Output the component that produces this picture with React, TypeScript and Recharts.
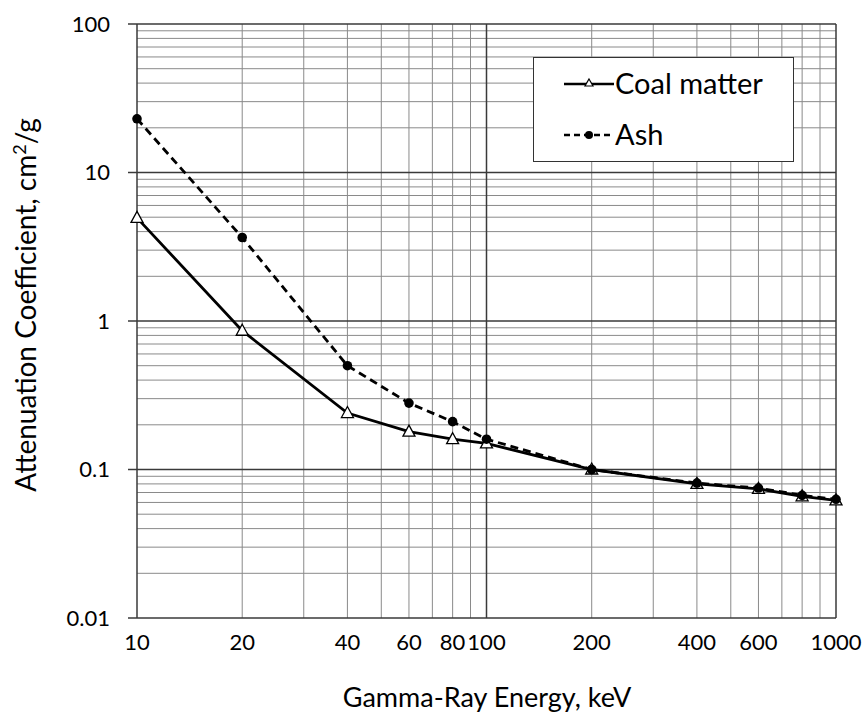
import { Label, Line, LineChart, ReferenceLine, XAxis, YAxis } from "recharts";

const FONT = "Lato, 'Open Sans', sans-serif";
const INK = "#000";
const GRID = "#8a8a8a";
const MAJOR = "#3a3a3a";

// gamma-ray energy, keV
const ENERGY = [10, 20, 40, 60, 80, 100, 200, 400, 600, 800, 1000];
// attenuation coefficient, cm2/g
const COAL = [4.95, 0.86, 0.24, 0.18, 0.16, 0.15, 0.1, 0.08, 0.074, 0.066, 0.062];
const ASH = [23, 3.65, 0.5, 0.28, 0.21, 0.16, 0.1, 0.081, 0.075, 0.067, 0.063];

const X_TICKS = [10, 20, 40, 60, 80, 100, 200, 400, 600, 1000];
const Y_TICKS = [0.01, 0.1, 1, 10, 100];

const X_MINOR = [20, 30, 40, 50, 60, 70, 80, 90, 200, 300, 400, 500, 600, 700, 800, 900];
const Y_MINOR = [
  0.02, 0.03, 0.04, 0.05, 0.06, 0.07, 0.08, 0.09,
  0.2, 0.3, 0.4, 0.5, 0.6, 0.7, 0.8, 0.9,
  2, 3, 4, 5, 6, 7, 8, 9,
  20, 30, 40, 50, 60, 70, 80, 90,
];
const X_MAJOR = [10, 100, 1000];
const Y_MAJOR = [0.01, 0.1, 1, 10, 100];

const data = ENERGY.map((e, i) => ({ energy: e, coal: COAL[i], ash: ASH[i] }));

function Triangle(props: any) {
  const { cx, cy, index } = props;
  if (cx == null || cy == null) return null;
  return (
    <path
      key={`t${index}`}
      d={`M${cx},${cy - 6.5}L${cx + 6},${cy + 4.5}L${cx - 6},${cy + 4.5}Z`}
      fill="#fff"
      stroke={INK}
      strokeWidth={1.3}
    />
  );
}

function Dot(props: any) {
  const { cx, cy, index } = props;
  if (cx == null || cy == null) return null;
  return <circle key={`d${index}`} cx={cx} cy={cy} r={4.8} fill={INK} />;
}

function LegendBox() {
  return (
    <div
      style={{
        position: "absolute",
        left: 533,
        top: 57,
        width: 261,
        height: 105,
        boxSizing: "border-box",
        border: "1.5px solid #333",
        background: "#fff",
      }}
    >
      <svg width={258} height={102} style={{ position: "absolute", left: 0, top: 0 }}>
        <line x1={30} x2={80} y1={26} y2={26} stroke={INK} strokeWidth={2.5} />
        <path d="M55,21L59,28L51,28Z" fill="#fff" stroke={INK} strokeWidth={1.2} />
        <text x={81} y={36} fontFamily={FONT} fontSize={29} fill={INK}>
          Coal matter
        </text>
        <line x1={30} x2={80} y1={77} y2={77} stroke={INK} strokeWidth={2.5} strokeDasharray="6 4" />
        <circle cx={55} cy={77} r={4} fill={INK} />
        <text x={81} y={87} fontFamily={FONT} fontSize={29} fill={INK}>
          Ash
        </text>
      </svg>
    </div>
  );
}

export default function App() {
  return (
    <div style={{ position: "absolute", left: 0, top: 0, width: 864, height: 716, background: "#fff" }}>
      <LineChart width={864} height={716} data={data} margin={{ top: 24, right: 28, left: 0, bottom: 0 }}>
        {X_MINOR.map((v) => (
          <ReferenceLine key={`xm${v}`} x={v} stroke={GRID} strokeWidth={1} />
        ))}
        {Y_MINOR.map((v) => (
          <ReferenceLine key={`ym${v}`} y={v} stroke={GRID} strokeWidth={1} />
        ))}
        {X_MAJOR.map((v) => (
          <ReferenceLine key={`xM${v}`} x={v} stroke={MAJOR} strokeWidth={1.5} />
        ))}
        {Y_MAJOR.map((v) => (
          <ReferenceLine key={`yM${v}`} y={v} stroke={MAJOR} strokeWidth={1.5} />
        ))}
        <XAxis
          dataKey="energy"
          type="number"
          scale="log"
          domain={[10, 1000]}
          ticks={X_TICKS}
          interval={0}
          height={98}
          axisLine={false}
          tickLine={false}
          tickSize={0}
          tickMargin={16}
          tick={{ fontSize: 22, fill: INK, fontFamily: FONT }}
        >
          <Label
            content={() => (
              <text x={487} y={707} textAnchor="middle" fontFamily={FONT} fontSize={27} fill={INK}>
                Gamma-Ray Energy, keV
              </text>
            )}
          />
        </XAxis>
        <YAxis
          type="number"
          scale="log"
          domain={[0.01, 100]}
          ticks={Y_TICKS}
          interval={0}
          width={137}
          axisLine={false}
          tickLine={{ stroke: MAJOR, strokeWidth: 1.5 }}
          tickSize={9}
          tickMargin={18}
          allowDataOverflow
          tick={{ fontSize: 22, fill: INK, fontFamily: FONT }}
        >
          <Label
            content={() => (
              <text
                x={36}
                y={305}
                transform="rotate(-90 36 305)"
                textAnchor="middle"
                fontFamily={FONT}
                fontSize={28}
                fill={INK}
              >
                Attenuation Coefficient, cm
                <tspan dy={-10} fontSize={18}>2</tspan>
                <tspan dy={10}>/g</tspan>
              </text>
            )}
          />
        </YAxis>
        <Line
          dataKey="coal"
          name="Coal matter"
          stroke={INK}
          strokeWidth={2.8}
          dot={<Triangle />}
          activeDot={false}
          isAnimationActive={false}
        />
        <Line
          dataKey="ash"
          name="Ash"
          stroke={INK}
          strokeWidth={2.8}
          strokeDasharray="8 5"
          dot={<Dot />}
          activeDot={false}
          isAnimationActive={false}
        />
      </LineChart>
      <LegendBox />
    </div>
  );
}
